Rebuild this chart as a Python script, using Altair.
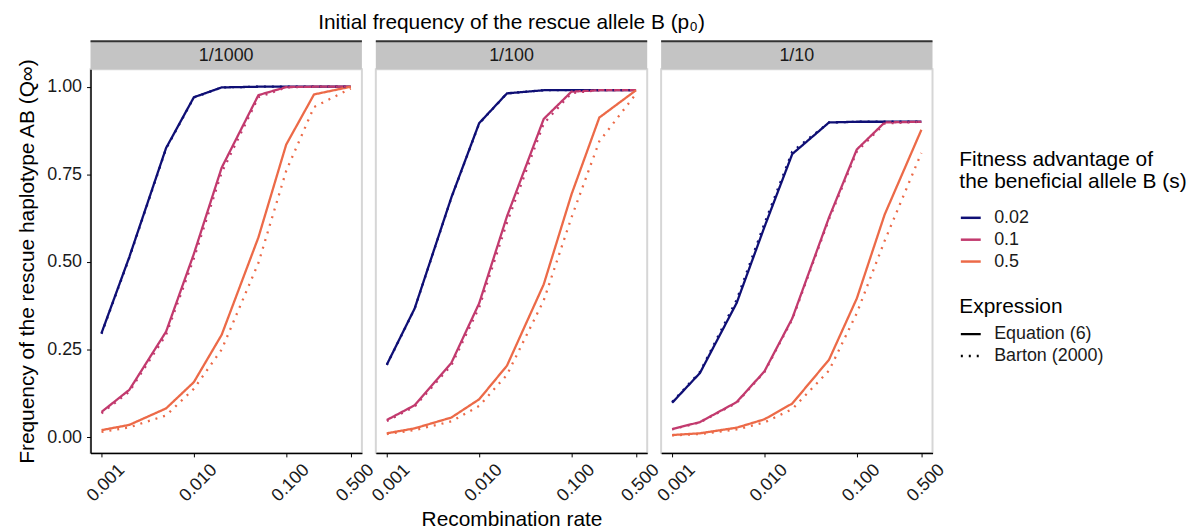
import altair as alt
import pandas as pd

# ---- data ----
r_vals = [0.001, 0.002, 0.005, 0.01, 0.02, 0.05, 0.1, 0.2, 0.5]
panels = ["1/1000", "1/100", "1/10"]
s_levels = ["0.02", "0.1", "0.5"]
expr_levels = ["Equation (6)", "Barton (2000)"]

# p0 = 1/1000
eq_1000_002 = [0.297, 0.514, 0.825, 0.970, 0.998, 1.0, 1.0, 1.0, 1.0]
ba_1000_002 = [0.295, 0.512, 0.823, 0.969, 0.998, 1.0, 1.0, 1.0, 1.0]
eq_1000_01 = [0.072, 0.135, 0.301, 0.523, 0.769, 0.976, 0.999, 1.0, 1.0]
ba_1000_01 = [0.068, 0.130, 0.292, 0.510, 0.755, 0.970, 0.998, 1.0, 1.0]
eq_1000_05 = [0.020, 0.035, 0.082, 0.157, 0.292, 0.570, 0.835, 0.978, 1.0]
ba_1000_05 = [0.015, 0.028, 0.062, 0.138, 0.250, 0.497, 0.760, 0.942, 0.995]
# p0 = 1/100
eq_100_002 = [0.207, 0.367, 0.684, 0.896, 0.981, 0.990, 0.990, 0.990, 0.990]
ba_100_002 = [0.206, 0.366, 0.683, 0.895, 0.981, 0.990, 0.990, 0.990, 0.990]
eq_100_01 = [0.049, 0.091, 0.212, 0.382, 0.630, 0.908, 0.986, 0.990, 0.990]
ba_100_01 = [0.046, 0.087, 0.205, 0.370, 0.612, 0.895, 0.982, 0.990, 0.990]
eq_100_05 = [0.011, 0.025, 0.056, 0.108, 0.204, 0.436, 0.693, 0.912, 0.990]
ba_100_05 = [0.009, 0.020, 0.045, 0.089, 0.178, 0.390, 0.627, 0.844, 0.980]
# p0 = 1/10
eq_10_002 = [0.098, 0.183, 0.383, 0.600, 0.808, 0.898, 0.900, 0.900, 0.900]
ba_10_002 = [0.100, 0.186, 0.392, 0.610, 0.815, 0.898, 0.900, 0.900, 0.900]
eq_10_01 = [0.023, 0.043, 0.100, 0.188, 0.339, 0.627, 0.821, 0.898, 0.900]
ba_10_01 = [0.022, 0.042, 0.098, 0.186, 0.336, 0.622, 0.815, 0.895, 0.900]
eq_10_05 = [0.006, 0.011, 0.027, 0.051, 0.096, 0.221, 0.396, 0.635, 0.877]
ba_10_05 = [0.005, 0.009, 0.022, 0.042, 0.080, 0.190, 0.354, 0.560, 0.811]

series = {
    ("1/1000", "0.02"): (eq_1000_002, ba_1000_002),
    ("1/1000", "0.1"): (eq_1000_01, ba_1000_01),
    ("1/1000", "0.5"): (eq_1000_05, ba_1000_05),
    ("1/100", "0.02"): (eq_100_002, ba_100_002),
    ("1/100", "0.1"): (eq_100_01, ba_100_01),
    ("1/100", "0.5"): (eq_100_05, ba_100_05),
    ("1/10", "0.02"): (eq_10_002, ba_10_002),
    ("1/10", "0.1"): (eq_10_01, ba_10_01),
    ("1/10", "0.5"): (eq_10_05, ba_10_05),
}

rows = []
for ei, ex in enumerate(expr_levels):
    for p in panels:
        for s in s_levels:
            vals = series[(p, s)][ei]
            for r, q in zip(r_vals, vals):
                rows.append({"p0": p, "s": s, "expr": ex, "r": r, "q": q, "ord": ei})
df = pd.DataFrame(rows)

colors = ["#0f0f75", "#c23a6e", "#ec6a48"]
FONT = "Liberation Sans"
W, H = 273, 386

def panel(i, p):
    d = df[df.p0 == p]
    x_axis = alt.Axis(values=[0.001, 0.01, 0.1, 0.5], format=".3f", labelAngle=315,
                      labelAlign="right", labelBaseline="middle", labelPadding=10, labelOffset=20,
                      title="Recombination rate" if i == 1 else None, grid=False,
                      labelFontSize=18, titleFontSize=21, titlePadding=4, tickSize=4)
    y_axis = alt.Axis(values=[0, 0.25, 0.5, 0.75, 1.0], format=".2f", grid=False,
                      title="Frequency of the rescue haplotype AB (Q\u221e)",
                      labelFontSize=18, titleFontSize=21, titlePadding=9, labelPadding=5,
                      tickSize=4) if i == 0 else None
    lines = alt.Chart(d).mark_line(strokeWidth=2.3, clip=True).encode(
        x=alt.X("r:Q", scale=alt.Scale(type="log", domain=[0.00076, 0.66], nice=False), axis=x_axis),
        y=alt.Y("q:Q", scale=alt.Scale(domain=[-0.045, 1.05], nice=False, zero=False), axis=y_axis),
        color=alt.Color("s:N", scale=alt.Scale(domain=s_levels, range=colors),
                        legend=alt.Legend(title=["Fitness advantage of", "the beneficial allele B (s)"],
                                          orient="none", legendX=874, legendY=80,
                                          symbolType="stroke", symbolSize=400, symbolStrokeWidth=2.5,
                                          titleFontSize=21, labelFontSize=18, titleFontWeight="normal",
                                          titleLineHeight=23, titlePadding=14, rowPadding=1,
                                          titleLimit=400, labelLimit=300, labelOffset=12)),
        strokeDash=alt.StrokeDash("expr:N", scale=alt.Scale(domain=expr_levels, range=[[1, 0], [2, 6]]),
                                  legend=alt.Legend(title="Expression", orient="none", legendX=874, legendY=228,
                                                    symbolType="stroke", symbolSize=400, symbolStrokeWidth=2.5,
                                                    symbolStrokeColor="black",
                                                    titleFontSize=21, labelFontSize=18, titleFontWeight="normal",
                                                    titlePadding=6, rowPadding=1, titleLimit=400,
                                                    labelLimit=300, labelOffset=12)),
        order=alt.Order("ord:Q"),
    )
    lab = pd.DataFrame({"lab": [p]})
    strip = alt.Chart(lab).mark_rect(color="#c4c4c4").encode(
        x=alt.value(0), x2=alt.value(W), y=alt.value(-28), y2=alt.value(0))
    topline = alt.Chart(lab).mark_rule(color="#333333", strokeWidth=2).encode(
        x=alt.value(0), x2=alt.value(W), y=alt.value(-28))
    striptext = alt.Chart(lab).mark_text(fontSize=18, font=FONT, color="#1a1a1a").encode(
        x=alt.value(W / 2), y=alt.value(-13), text="lab:N")
    layers = [strip, topline, striptext, lines]
    if i == 1:
        ttl = alt.Chart(lab).mark_text(fontSize=21, font=FONT, color="black").encode(
            x=alt.value(W / 2), y=alt.value(-46),
            text=alt.value("Initial frequency of the rescue allele B (p\u2080)"))
        layers.append(ttl)
    return alt.layer(*layers).properties(width=W, height=H)

chart = alt.hconcat(*[panel(i, p) for i, p in enumerate(panels)], spacing=14, bounds="flush").configure_view(
    stroke="#d6d6d6", strokeWidth=2
).configure_axis(
    domainColor="black", tickColor="black", labelColor="#1a1a1a", titleColor="black",
    labelFont=FONT, titleFont=FONT, domainWidth=1.5, titleFontWeight="normal"
).configure_legend(
    labelFont=FONT, titleFont=FONT, labelColor="#1a1a1a", titleColor="black"
).properties(padding={"left": 7, "top": 2, "right": 0, "bottom": 0})

chart.save("out.html", embed_options={"renderer": "svg", "actions": False})
